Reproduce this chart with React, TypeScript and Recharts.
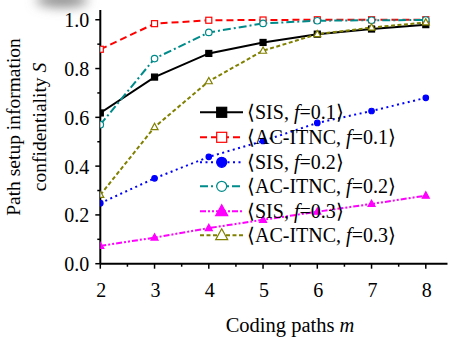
import React from 'react';
import { LineChart, Line, XAxis, YAxis, Legend, Label } from 'recharts';

const codingPaths = [2, 3, 4, 5, 6, 7, 8];
const sisF01 = [0.618, 0.765, 0.862, 0.907, 0.941, 0.962, 0.98];
const acF01 = [0.879, 0.984, 0.998, 0.999, 1.0, 1.0, 1.0];
const sisF02 = [0.248, 0.35, 0.438, 0.503, 0.577, 0.626, 0.68];
const acF02 = [0.57, 0.841, 0.948, 0.985, 0.996, 0.998, 0.999];
const sisF03 = [0.073, 0.107, 0.146, 0.18, 0.213, 0.245, 0.279];
const acF03 = [0.282, 0.56, 0.748, 0.873, 0.941, 0.968, 0.989];

const xTicks = [2, 2.5, 3, 3.5, 4, 4.5, 5, 5.5, 6, 6.5, 7, 7.5, 8];
const yTicks = [0, 0.1, 0.2, 0.3, 0.4, 0.5, 0.6, 0.7, 0.8, 0.9, 1.0];

const xTitle = 'Coding paths ';
const xTitleVar = 'm';
const yTitle1 = 'Path setup information';
const yTitle2 = 'confidentiality ';
const yTitleVar = 'S';

type Shape = 'square' | 'circle' | 'triangle';
interface SeriesDef {
  key: string;
  scheme: string;
  f: string;
  values: number[];
  color: string;
  dash?: string;
  shape: Shape;
  filled: boolean;
  size: number;
  legendSize: number;
}

const series: SeriesDef[] = [
  { key: 'sisF01', scheme: 'SIS', f: '0.1', values: sisF01, color: '#000000', shape: 'square', filled: true, size: 6, legendSize: 10 },
  { key: 'acF01', scheme: 'AC-ITNC', f: '0.1', values: acF01, color: '#ff0000', dash: '7 4', shape: 'square', filled: false, size: 6, legendSize: 10 },
  { key: 'sisF02', scheme: 'SIS', f: '0.2', values: sisF02, color: '#0000ff', dash: '2 3.5', shape: 'circle', filled: true, size: 5.5, legendSize: 10 },
  { key: 'acF02', scheme: 'AC-ITNC', f: '0.2', values: acF02, color: '#008b8b', dash: '8 3 2 3', shape: 'circle', filled: false, size: 6.5, legendSize: 10 },
  { key: 'sisF03', scheme: 'SIS', f: '0.3', values: sisF03, color: '#ff00ff', dash: '6 2 2 2 2 2', shape: 'triangle', filled: true, size: 7, legendSize: 12 },
  { key: 'acF03', scheme: 'AC-ITNC', f: '0.3', values: acF03, color: '#808000', dash: '4 2.5', shape: 'triangle', filled: false, size: 7, legendSize: 12 },
];

const data = codingPaths.map((m, i) => {
  const row: Record<string, number> = { m };
  series.forEach((s) => {
    row[s.key] = s.values[i];
  });
  return row;
});

const FONT = '"Liberation Serif", "Times New Roman", serif';

function Marker({ shape, cx, cy, size, color, filled }: { shape: Shape; cx: number; cy: number; size: number; color: string; filled: boolean }) {
  const fill = filled ? color : '#ffffff';
  if (shape === 'square') {
    return <rect x={cx - size / 2} y={cy - size / 2} width={size} height={size} fill={fill} stroke={color} strokeWidth={1.2} />;
  }
  if (shape === 'circle') {
    return <circle cx={cx} cy={cy} r={size / 2} fill={fill} stroke={color} strokeWidth={1.2} />;
  }
  const h = size * 0.9;
  const pts = `${cx},${cy - h * 0.6} ${cx - size / 2},${cy + h * 0.4} ${cx + size / 2},${cy + h * 0.4}`;
  return <polygon points={pts} fill={fill} stroke={color} strokeWidth={1.2} strokeLinejoin="miter" />;
}

function XTick(props: any) {
  const { x, y, payload } = props;
  const v = payload.value as number;
  const major = Number.isInteger(v);
  return (
    <g>
      <line x1={x} x2={x} y1={y} y2={y + (major ? 5 : 3)} stroke="#000" strokeWidth={1.5} />
      {major && (
        <text x={x + 1} y={y + 33} textAnchor="middle" style={{ fontFamily: FONT }} fontSize={20} fill="#000">
          {String(v)}
        </text>
      )}
    </g>
  );
}

function YTick(props: any) {
  const { x, y, payload } = props;
  const v = payload.value as number;
  const major = Math.round(v * 10) % 2 === 0;
  return (
    <g>
      <line x1={x} x2={x - (major ? 5 : 3)} y1={y} y2={y} stroke="#000" strokeWidth={1.5} />
      {major && (
        <text x={x - 11} y={y + 7.5} textAnchor="end" style={{ fontFamily: FONT }} fontSize={20} fill="#000">
          {v.toFixed(1)}
        </text>
      )}
    </g>
  );
}

function XTitle() {
  return (
    <text x={290} y={332} textAnchor="middle" style={{ fontFamily: FONT }} fontSize={20.5} fill="#000">
      {xTitle}
      <tspan fontStyle="italic">{xTitleVar}</tspan>
    </text>
  );
}

function YTitle() {
  return (
    <g style={{ fontFamily: FONT }} fontSize={19.5} fill="#000">
      <defs>
        <filter id="smudgeBlur" x="-50%" y="-100%" width="200%" height="300%">
          <feGaussianBlur stdDeviation="6" />
        </filter>
      </defs>
      <ellipse cx={62} cy={0} rx={26} ry={7} fill="#8a8a8a" filter="url(#smudgeBlur)" />
      <text transform="translate(20,127) rotate(-90)" textAnchor="middle">
        {yTitle1}
      </text>
      <text transform="translate(46,127) rotate(-90)" textAnchor="middle">
        {yTitle2}
        <tspan fontStyle="italic">{yTitleVar}</tspan>
      </text>
    </g>
  );
}

function LegendContent() {
  const rowH = 24.6;
  return (
    <div style={{ fontFamily: FONT, fontSize: 20, color: '#000', lineHeight: `${rowH}px` }}>
      {series.map((s) => (
        <div key={s.key} style={{ display: 'flex', alignItems: 'center', height: rowH, whiteSpace: 'nowrap' }}>
          <svg width={47} height={rowH} style={{ display: 'block', flex: 'none' }}>
            <line x1={0} x2={43} y1={rowH / 2} y2={rowH / 2} stroke={s.color} strokeWidth={2} strokeDasharray={s.dash} />
            <Marker shape={s.shape} cx={21.7} cy={rowH / 2} size={s.legendSize} color={s.color} filled={s.filled} />
          </svg>
          <span>
            {'\u27E8'}
            {s.scheme}, <i>f</i>={s.f}
            {'\u27E9'}
          </span>
        </div>
      ))}
    </div>
  );
}

export default function App() {
  return (
    <div style={{ position: 'absolute', left: 0, top: 0, width: 452, height: 339, background: '#fff', fontFamily: FONT }}>
      <LineChart width={452} height={339} data={data} margin={{ top: 10, right: 4.5, left: 0, bottom: 0 }}>
        <XAxis
          dataKey="m"
          type="number"
          domain={[2, 8.4]}
          ticks={xTicks}
          interval={0}
          height={75.3}
          tickSize={0}
          tickMargin={0}
          tickLine={false}
          tick={<XTick />}
          axisLine={{ stroke: '#000', strokeWidth: 2 }}
          allowDataOverflow
        >
          <Label content={<XTitle />} />
        </XAxis>
        <YAxis
          type="number"
          domain={[0, 1.04]}
          ticks={yTicks}
          interval={0}
          width={100.3}
          tickSize={0}
          tickMargin={0}
          tickLine={false}
          tick={<YTick />}
          axisLine={{ stroke: '#000', strokeWidth: 2 }}
          allowDataOverflow
        >
          <Label content={<YTitle />} />
        </YAxis>
        <Legend
          layout="vertical"
          align="center"
          verticalAlign="middle"
          content={<LegendContent />}
          wrapperStyle={{ position: 'absolute', left: 200, top: 100.4, width: 250, margin: 0, padding: 0 }}
        />
        {series.map((s) => (
          <Line
            key={s.key}
            dataKey={s.key}
            type="linear"
            stroke={s.color}
            strokeWidth={2}
            strokeDasharray={s.dash}
            isAnimationActive={false}
            dot={(p: any) => (
              <Marker key={`${s.key}-${p.index}`} shape={s.shape} cx={p.cx} cy={p.cy} size={s.size} color={s.color} filled={s.filled} />
            )}
            activeDot={false}
          />
        ))}
      </LineChart>
    </div>
  );
}
